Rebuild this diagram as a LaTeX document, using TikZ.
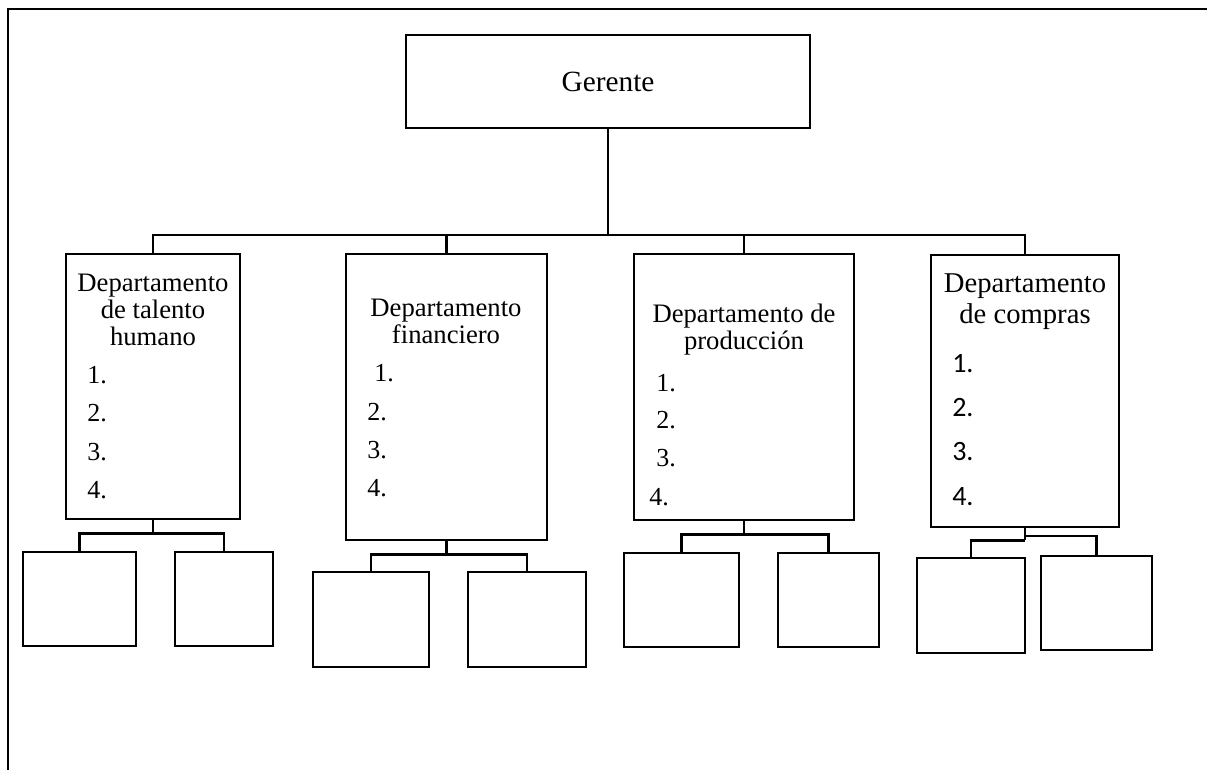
\documentclass[tikz,border=0pt]{standalone}
\usepackage{fontspec}
\setmainfont{Liberation Serif}
\newfontfamily\calib{Carlito}
\usetikzlibrary{fit}
\tikzset{
 box/.style={draw, line width=2pt, inner sep=0pt},
 conn/.style={line width=2pt},
 frame/.style={line width=1.6pt},
 ttl/.style={align=center, inner sep=0pt, font=\fontsize{20}{20.3}\selectfont},
 ttlb/.style={align=center, inner sep=0pt, font=\fontsize{21.5}{23.3}\selectfont},
 num/.style={anchor=west, inner sep=0pt, font=\fontsize{19.5}{19.5}\selectfont},
 numc/.style={anchor=west, inner sep=0pt, font=\calib\fontsize{21}{21}\selectfont},
}
\begin{document}
\begin{tikzpicture}[x=0.75pt,y=-0.75pt]
\useasboundingbox (0,0) rectangle (1207,770);
% frame
\draw[frame] (8,770) -- (8,9) -- (1207,9);
% boxes
\node[box, fit={(406,35) (810,128)}] (g) {};
\node[inner sep=0pt, font=\fontsize{22}{22}\selectfont] (gt) at (608,82) {Gerente};
\node[box, fit={(66,254) (240,519)}] (d1) {};
\node[box, fit={(346,254) (547,540)}] (d2) {};
\node[box, fit={(634,254) (854,520)}] (d3) {};
\node[box, fit={(931,255) (1119,527)}] (d4) {};
\node[box, fit={(23,552) (136,646)}] (c11) {};
\node[box, fit={(175,552) (273,646)}] (c12) {};
\node[box, fit={(313,572) (429,667)}] (c21) {};
\node[box, fit={(468,572) (586,667)}] (c22) {};
\node[box, fit={(624,553) (739,647)}] (c31) {};
\node[box, fit={(778,553) (879,647)}] (c32) {};
\node[box, fit={(917,558) (1025,653)}] (c41) {};
\node[box, fit={(1041,556) (1152,650)}] (c42) {};
% titles
\node[ttl] (t1) at (153,310) {Departamento\\de talento\\humano};
\node[ttl] (t2) at (446,321) {Departamento\\financiero};
\node[ttl] (t3) at (744,330) {Departamento de\\producción};
\node[ttlb] (t4) at (1025,302) {Departamento\\de compras};
% numbers
\foreach \i/\y in {1/375,2/413,3/452,4/490} \node[num] (na\i) at (87,\y) {\i.};
\node[num] (nb1) at (374,373) {1.};
\foreach \i/\y in {2/412,3/450,4/488} \node[num] (nb\i) at (367,\y) {\i.};
\foreach \i/\y in {1/383,2/420,3/458} \node[num] (nc\i) at (656,\y) {\i.};
\node[num] (nc4) at (649,497) {4.};
\foreach \i/\y in {1/364,2/408,3/452,4/497} \node[numc] (nd\i) at (952,\y) {\i.};
% connectors
\draw[conn] (g.south) -- (608,235) coordinate (bus);
\draw[conn] (d1.north) |- (bus);
\draw[conn] (d2.north) -- (d2.north |- bus);
\draw[conn] (d3.north) -- (d3.north |- bus);
\draw[conn] (d4.north) |- (bus);
\draw[conn] (d1.south) -- ++(0,13) coordinate (m1);
\draw[conn] (c11.north) |- (m1) -| (c12.north);
\draw[conn] (d2.south) -- ++(0,13) coordinate (m2);
\draw[conn] (c21.north) |- (m2) -| (c22.north);
\draw[conn] (d3.south) -- ++(0,13) coordinate (m3);
\draw[conn] (c31.north) |- (m3) -| (c32.north);
\draw[conn] (d4.south) -- ++(0,12) coordinate (m4);
\draw[conn] (c41.north) |- (m4);
\coordinate (m4b) at (1025,536);
\draw[conn] (m4b) -| (c42.north);
\end{tikzpicture}
\end{document}
